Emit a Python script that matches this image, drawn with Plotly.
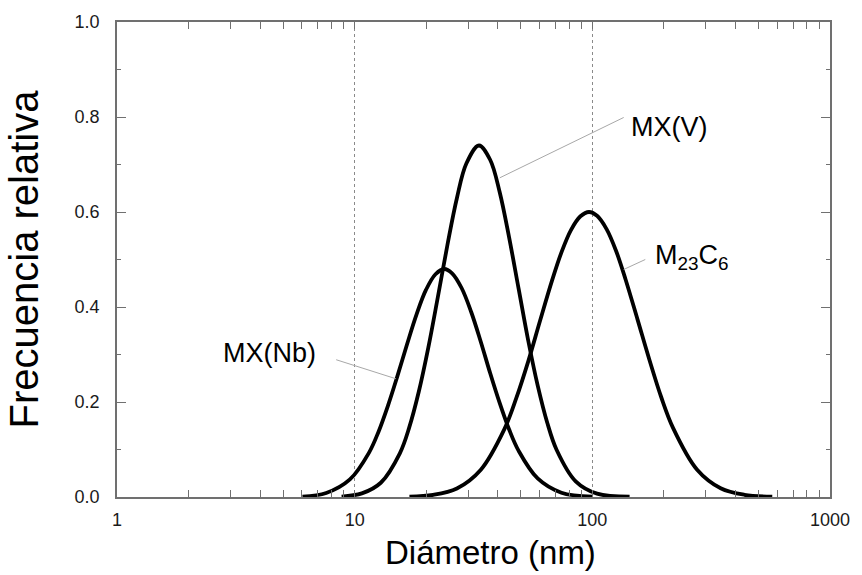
import math
import plotly.graph_objects as go

# Particle size distributions (diameter in nm, relative frequency)
nb_diam = [6.03, 7.59, 9.55, 11.48, 12.59, 13.80, 15.14, 16.60, 18.20, 19.95, 21.88, 23.82,
           25.70, 28.18, 30.90, 33.88, 37.15, 40.74, 44.67, 48.98, 58.88, 74.13, 100.0]
nb_freq = [0.001, 0.0085, 0.037, 0.093, 0.137, 0.192, 0.255, 0.321, 0.384, 0.436, 0.469, 0.48,
           0.471, 0.44, 0.390, 0.328, 0.261, 0.198, 0.142, 0.097, 0.039, 0.009, 0.001]

v_diam = [8.81, 10.72, 12.88, 15.49, 16.98, 18.62, 20.42, 22.39, 24.55, 26.92, 29.51, 33.34,
          37.15, 40.74, 44.67, 48.98, 53.70, 58.88, 64.57, 70.79, 85.11, 104.7, 143.5]
v_freq = [0.001, 0.0076, 0.030, 0.092, 0.147, 0.222, 0.315, 0.421, 0.530, 0.629, 0.702, 0.74,
          0.710, 0.642, 0.546, 0.438, 0.330, 0.235, 0.157, 0.099, 0.033, 0.007, 0.0005]

m23_diam = [17.0, 21.38, 26.92, 33.88, 42.66, 47.86, 53.70, 60.26, 67.61, 74.13, 81.28, 89.13,
            96.83, 104.7, 114.8, 125.9, 138.0, 154.9, 173.8, 195.0, 218.8, 275.4, 346.7, 436.5, 571.5]
m23_freq = [0.001, 0.0046, 0.018, 0.057, 0.143, 0.208, 0.285, 0.371, 0.455, 0.515, 0.562, 0.591,
            0.6, 0.592, 0.564, 0.518, 0.458, 0.374, 0.289, 0.210, 0.145, 0.058, 0.0185, 0.0047, 0.0007]

# Curve labels: text, where the text sits, and the leader line (start near text, end on curve)
labels = ["MX(Nb)", "MX(V)", "M<sub>23</sub>C<sub>6</sub>"]
label_xy = [(7.03, 0.303), (142.2, 0.778), (180.7, 0.506)]
label_anchor = ["right", "left", "left"]
leader_start = [(8.36, 0.289), (135.5, 0.799), (167.0, 0.50)]
leader_end = [(14.9, 0.249), (40.8, 0.672), (135.5, 0.479)]

x_major = [1, 10, 100, 1000]
x_minor = [m * d for d in (1, 10, 100) for m in range(2, 10)]

FONT = "Liberation Sans, Arial, sans-serif"
AXIS_COLOR = "#707070"

fig = go.Figure()

for xs, ys in ((nb_diam, nb_freq), (v_diam, v_freq), (m23_diam, m23_freq)):
    fig.add_trace(go.Scatter(
        x=xs, y=ys, mode="lines",
        line=dict(color="black", width=3.8, shape="spline", smoothing=1.0),
        showlegend=False, hoverinfo="skip",
    ))

# thin grey leader lines from labels to curves
for (x0, y0), (x1, y1) in zip(leader_start, leader_end):
    fig.add_trace(go.Scatter(
        x=[x0, x1], y=[y0, y1], mode="lines",
        line=dict(color="#a8a8a8", width=1),
        showlegend=False, hoverinfo="skip",
    ))

# annotations on a log axis take log10 positions
for text, (x0, y0), anchor in zip(labels, label_xy, label_anchor):
    fig.add_annotation(
        x=math.log10(x0), y=y0, xref="x", yref="y", text=text, showarrow=False,
        xanchor=anchor, yanchor="middle",
        font=dict(family=FONT, size=27, color="black"),
    )

# x-axis title, set slightly right of the plot centre
fig.add_annotation(
    x=0.524, y=0, xref="paper", yref="paper", yshift=-55,
    text="Diámetro (nm)", showarrow=False, xanchor="center", yanchor="middle",
    font=dict(family=FONT, size=33, color="black"),
)

fig.update_xaxes(
    type="log", range=[0, 3],
    tickvals=x_major, ticktext=[str(v) for v in x_major],
    ticks="inside", ticklen=7, tickwidth=1, tickcolor=AXIS_COLOR,
    minor=dict(tickvals=x_minor, ticks="inside", ticklen=7, tickwidth=1,
               tickcolor=AXIS_COLOR, showgrid=False),
    showgrid=True, gridcolor="#8a8a8a", griddash="dot", gridwidth=1,
    showline=True, linecolor=AXIS_COLOR, linewidth=1.5, mirror="ticks",
    zeroline=False, ticklabelstandoff=6,
    tickfont=dict(family=FONT, size=18, color="#1a1a1a"),
)

fig.update_yaxes(
    range=[0, 1], dtick=0.2, tickformat=".1f",
    ticks="inside", ticklen=9, tickwidth=1, tickcolor=AXIS_COLOR,
    minor=dict(dtick=0.1, ticks="inside", ticklen=4, tickwidth=1, tickcolor=AXIS_COLOR),
    showgrid=False, zeroline=False,
    showline=True, linecolor=AXIS_COLOR, linewidth=1.5, mirror="ticks",
    ticklabelstandoff=12,
    tickfont=dict(family=FONT, size=18, color="#1a1a1a"),
    title=dict(text="Frecuencia relativa", standoff=24,
               font=dict(family=FONT, size=40, color="black")),
)

fig.update_layout(
    width=862, height=575,
    margin=dict(l=117, r=26, t=19, b=78),
    paper_bgcolor="white", plot_bgcolor="white",
)

fig.write_html("out.html")
